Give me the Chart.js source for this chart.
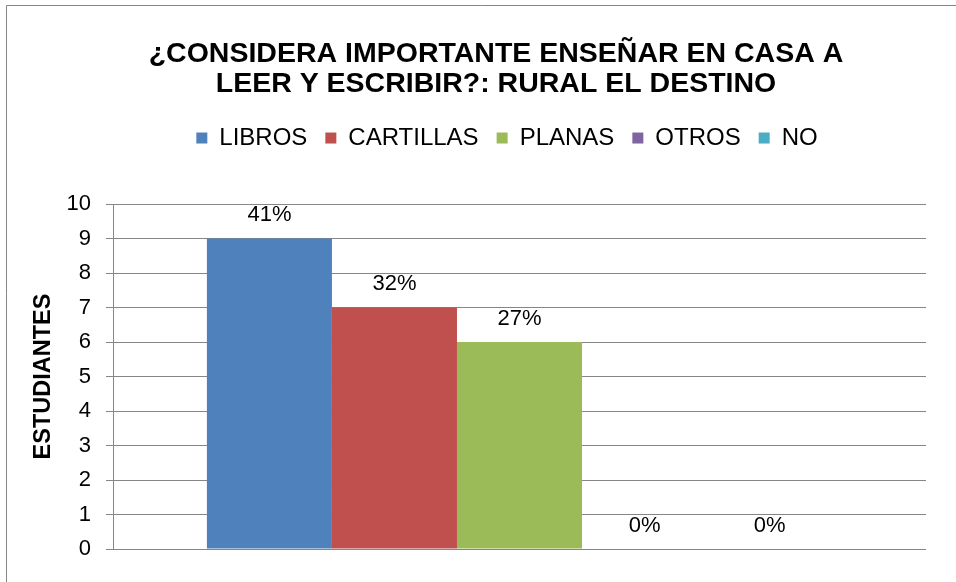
<!DOCTYPE html>
<html><head><meta charset="utf-8">
<script src="https://cdn.jsdelivr.net/npm/chart.js@4/dist/chart.umd.min.js"></script>
<style>html,body{margin:0;padding:0;background:#fff;overflow:hidden}canvas{display:block}</style>
</head><body>
<canvas id="c" width="956" height="582"></canvas>
<script>
// ---- data ----
const categories = [''];
const seriesNames = ['LIBROS', 'CARTILLAS', 'PLANAS', 'OTROS', 'NO'];
const seriesValues = [9, 7, 6, 0, 0];
const percentLabels = ['41%', '32%', '27%', '0%', '0%'];
const seriesColors = ['#4F81BD', '#C0504D', '#9BBB59', '#8064A2', '#4BACC6'];
const yMin = 0, yMax = 10, yStep = 1;
const titleLines = ['¿CONSIDERA IMPORTANTE ENSEÑAR EN CASA A', 'LEER Y ESCRIBIR?: RURAL EL DESTINO'];
const yAxisTitle = 'ESTUDIANTES';

const FONT = "'Liberation Sans', Arial, Helvetica, sans-serif";
const GRID = '#868686';

const frame = {
  id: 'frame',
  beforeDraw(chart) {
    const ctx = chart.ctx;
    ctx.save();
    ctx.fillStyle = '#fff';
    ctx.fillRect(0, 0, chart.width, chart.height);
    ctx.strokeStyle = '#868686';
    ctx.lineWidth = 1;
    ctx.beginPath();
    ctx.moveTo(6.5, chart.height);
    ctx.lineTo(6.5, 5.5);
    ctx.lineTo(chart.width, 5.5);
    ctx.stroke();
    ctx.restore();
  }
};

const barLabels = {
  id: 'barLabels',
  afterDatasetsDraw(chart) {
    const ctx = chart.ctx;
    ctx.save();
    ctx.font = '22px ' + FONT;
    ctx.fillStyle = '#000';
    ctx.textAlign = 'center';
    ctx.textBaseline = 'middle';
    chart.data.datasets.forEach((ds, i) => {
      const meta = chart.getDatasetMeta(i);
      meta.data.forEach(el => {
        ctx.fillText(percentLabels[i], el.x, el.y - 23.5);
      });
    });
    ctx.restore();
  }
};

const legendShift = {
  id: 'legendShift',
  afterLayout(chart) {
    if (chart.legend) { chart.legend.left += 11; chart.legend.right += 11; }
  }
};

new Chart(document.getElementById('c'), {
  type: 'bar',
  data: {
    labels: categories,
    datasets: seriesNames.map((name, i) => ({
      label: name,
      data: [seriesValues[i]],
      backgroundColor: seriesColors[i],
      borderWidth: 0,
      categoryPercentage: 0.769,
      barPercentage: 1.0
    }))
  },
  options: {
    responsive: false,
    animation: false,
    events: [],
    layout: { padding: { left: 36, right: 0, top: 0, bottom: 0 } },
    plugins: {
      title: {
        display: true,
        text: titleLines,
        color: '#000',
        weight: 3000,
        font: { family: FONT, size: 28.5, weight: 'bold', lineHeight: 1.053 },
        padding: { top: 39, bottom: 9 }
      },
      legend: {
        display: true,
        position: 'top',
        weight: 2000,
        labels: {
          color: '#000',
          font: { family: FONT, size: 24 },
          boxWidth: 11,
          boxHeight: 11,
          padding: 18
        }
      },
      subtitle: {
        display: true,
        text: '',
        weight: 1000,
        font: { family: FONT, size: 1, lineHeight: 1 },
        padding: { top: 43, bottom: 0 }
      },
      tooltip: { enabled: false }
    },
    scales: {
      x: { display: false },
      y: {
        min: yMin, max: yMax,
        ticks: { stepSize: yStep, color: '#000', font: { family: FONT, size: 22 }, padding: 15 },
        grid: { color: GRID, lineWidth: 1, drawTicks: true, tickLength: 7, tickColor: GRID },
        border: { display: true, color: GRID, width: 1 },
        title: {
          display: true,
          text: yAxisTitle,
          color: '#000',
          font: { family: FONT, size: 23.5, weight: 'bold', lineHeight: 0.6 },
          padding: { top: 0, bottom: 0 }
        },
        afterFit(scale) {
          scale.width = 77;
          scale.paddingTop = 204;
          scale.paddingBottom = 33;
          scale.paddingRight = 30;
        }
      }
    }
  },
  plugins: [frame, barLabels, legendShift]
});
</script>
</body></html>
